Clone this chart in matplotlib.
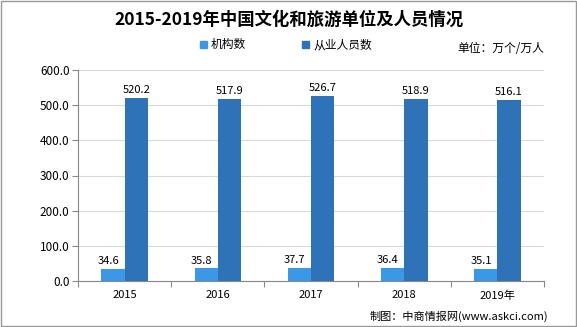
import numpy as np
import matplotlib
matplotlib.use("Agg")
import matplotlib.pyplot as plt
from matplotlib.patches import Rectangle

plt.rcParams['font.family'] = ['Noto Sans CJK SC', 'DejaVu Sans']

years = ['2015', '2016', '2017', '2018', '2019年']
jigou = [34.6, 35.8, 37.7, 36.4, 35.1]
renyuan = [520.2, 517.9, 526.7, 518.9, 516.1]

c_light = '#3b98e6'
c_dark = '#2e72b8'

fig = plt.figure(figsize=(5.77, 3.27), dpi=100)
ax = fig.add_axes([78 / 577, 1 - 281 / 327, 466 / 577, 211 / 327])

x = np.arange(len(years))
w = 0.25
ax.bar(x - w / 2, jigou, w, color=c_light, zorder=3)
ax.bar(x + w / 2, renyuan, w, color=c_dark, zorder=3)

for i in range(len(years)):
    ax.text(x[i] - w / 2 - 0.05, jigou[i] + 8, f'{jigou[i]:.1f}', ha='center', va='bottom', fontsize=8)
    ax.text(x[i] + w / 2, renyuan[i] + 8, f'{renyuan[i]:.1f}', ha='center', va='bottom', fontsize=8)

ax.set_xlim(-0.5, len(years) - 0.5)
ax.set_ylim(0, 600)
ax.set_yticks(np.arange(0, 601, 100))
ax.set_yticklabels([f'{v:.1f}' for v in range(0, 601, 100)], fontsize=8.5)
ax.set_xticks(np.arange(-0.5, len(years), 1))
ax.set_xticklabels([])
ax.tick_params(axis='x', length=4, color='#888888')
ax.tick_params(axis='y', length=4, color='#888888', pad=2)
for i, y in enumerate(years):
    ax.text(x[i], -0.045, y, transform=ax.get_xaxis_transform(), ha='center', va='top', fontsize=8)

ax.grid(axis='y', color='#d9d9d9', linewidth=0.8, zorder=0)
for s in ['top', 'right']:
    ax.spines[s].set_visible(False)
ax.spines['left'].set_color('#888888')
ax.spines['bottom'].set_color('#888888')

fig.text(0.5, 1 - 20 / 327, '2015-2019年中国文化和旅游单位及人员情况', ha='center', va='center',
         fontsize=12.5, fontweight='bold')

# legend
for lx, lab, col in [(200, '机构数', c_light), (302, '从业人员数', c_dark)]:
    fig.patches.append(Rectangle((lx / 577, 1 - 48 / 327), 7 / 577, 7 / 327, color=col,
                                 transform=fig.transFigure))
    fig.text((lx + 11) / 577, 1 - 44.5 / 327, lab, ha='left', va='center', fontsize=8.5)
fig.text(457 / 577, 1 - 48 / 327, '单位：万个/万人', ha='left', va='center', fontsize=8.5)
fig.text(548 / 577, 1 - 316 / 327, '制图：中商情报网(www.askci.com)', ha='right', va='center', fontsize=8)

fig.patches.append(Rectangle((0.001, 0.002), 0.997, 0.995, fill=False, edgecolor='#999999',
                             linewidth=1, transform=fig.transFigure))

fig.savefig('out.png', dpi=100)
